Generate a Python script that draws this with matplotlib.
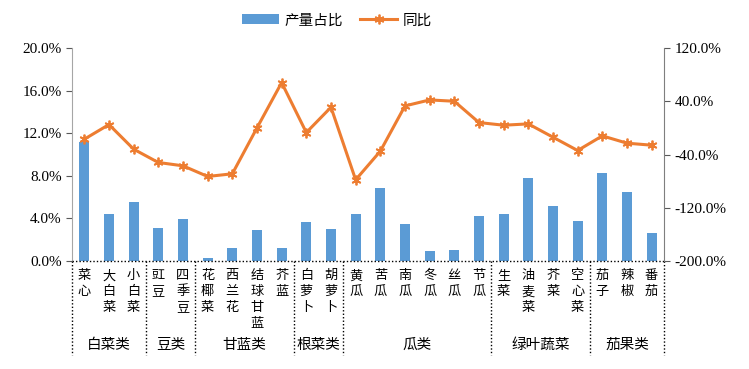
import matplotlib.pyplot as plt
import matplotlib.transforms as mtransforms
from matplotlib.ticker import FuncFormatter

plt.rcParams['font.family'] = ['Noto Sans CJK SC', 'DejaVu Sans']

# vegetable names and their groups
names = ['菜心', '大白菜', '小白菜', '豇豆', '四季豆', '花椰菜', '西兰花', '结球甘蓝', '芥蓝',
         '白萝卜', '胡萝卜', '黄瓜', '苦瓜', '南瓜', '冬瓜', '丝瓜', '节瓜',
         '生菜', '油麦菜', '芥菜', '空心菜', '茄子', '辣椒', '番茄']
groups = ['白菜类', '豆类', '甘蓝类', '根菜类', '瓜类', '绿叶蔬菜', '茄果类']
group_sizes = [3, 2, 4, 2, 6, 4, 3]

# 产量占比 (%) and 同比 (%)
share = [11.2, 4.4, 5.5, 3.1, 3.9, 0.25, 1.2, 2.9, 1.2,
         3.7, 3.0, 4.4, 6.9, 3.5, 0.9, 1.0, 4.2,
         4.4, 7.8, 5.2, 3.75, 8.3, 6.5, 2.6]
yoy = [-17, 5, -32, -52, -57, -73, -69, 0, 68,
       -7, 31, -78, -35, 33, 42, 40, 8,
       4, 6, -14, -34, -12, -23, -26]

blue = '#5B9BD5'
orange = '#ED7D31'
num_font = 'Liberation Serif'

fig = plt.figure(figsize=(7.49, 3.69), dpi=100)
ax = fig.add_axes([0.0961, 0.2927, 0.7904, 0.5772])
ax2 = ax.twinx()

x = list(range(len(names)))
bars = ax.bar(x, share, width=0.4, color=blue, label='产量占比', zorder=2)
line, = ax2.plot(x, yoy, color=orange, lw=2.2, marker=(6, 2, 0), markersize=7,
                 markeredgewidth=1.3, label='同比', zorder=3)

ax.set_xlim(-0.5, len(names) - 0.5)
ax.set_ylim(0, 20)
ax.set_yticks([0, 4, 8, 12, 16, 20])
ax.yaxis.set_major_formatter(FuncFormatter(lambda v, p: f'{v:.1f}%'))
ax2.set_ylim(-200, 120)
ax2.set_yticks([-200, -120, -40, 40, 120])
ax2.yaxis.set_major_formatter(FuncFormatter(lambda v, p: f'{v:.1f}%'))

for a in (ax, ax2):
    a.spines['top'].set_visible(False)
    a.spines['bottom'].set_visible(False)
    a.spines['left'].set_color('#A6A6A6')
    a.spines['right'].set_color('#7F7F7F')
    a.tick_params(axis='y', length=4, color='#595959', labelsize=11)
    for t in a.get_yticklabels():
        t.set_fontfamily(num_font)
ax.spines['right'].set_visible(False)
ax2.spines['left'].set_visible(False)

ax.set_xticks(x)
ax.set_xticklabels(['\n'.join(n) for n in names], fontsize=9.5, linespacing=1.3)
ax.tick_params(axis='x', length=0, pad=6)

# dotted baseline and group separators
trans = mtransforms.blended_transform_factory(ax.transData, ax.transAxes)
ax.plot([-0.5, len(names) - 0.5], [0, 0], transform=trans, color='black', lw=1,
        ls=(0, (1, 1.5)), clip_on=False, zorder=4)
edges = [-0.5]
for s in group_sizes:
    edges.append(edges[-1] + s)
for e in edges:
    ax.plot([e, e], [0, -0.44], transform=trans, color='black', lw=1,
            ls=(0, (1, 1.5)), clip_on=False)
for g, a, b in zip(groups, edges[:-1], edges[1:]):
    ax.text((a + b) / 2, -0.395, g, transform=trans, ha='center', va='center', fontsize=10.5)

fig.legend(handles=[bars, line], loc='center', bbox_to_anchor=(0.45, 0.945), ncol=2,
           frameon=False, fontsize=10.5, handlelength=2.5, columnspacing=1.2, handletextpad=0.4)

fig.savefig('out.png', dpi=100)
